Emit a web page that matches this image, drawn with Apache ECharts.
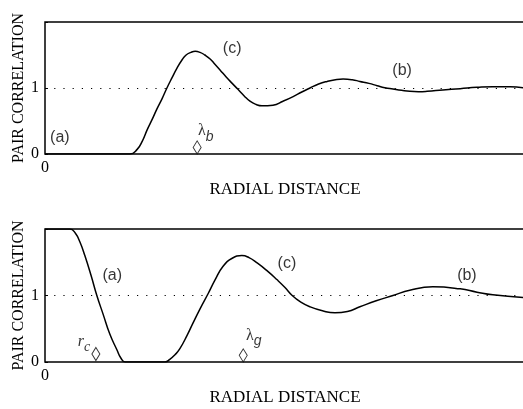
<!DOCTYPE html>
<html>
<head>
<meta charset="utf-8">
<script src="https://cdn.jsdelivr.net/npm/echarts@6/dist/echarts.min.js"></script>
<style>
  html, body { margin: 0; padding: 0; background: #fff; }
  #chart { width: 523px; height: 409px; }
</style>
</head>
<body>
<div id="chart"></div>
<script>
// radial distance runs 0..10 (arbitrary units), pair correlation 0..2
const topX = [0, 1.77, 1.92, 2.03, 2.13, 2.23, 2.33, 2.44, 2.54, 2.65, 2.75, 2.85, 2.94, 3.04, 3.13, 3.23, 3.33, 3.44, 3.54, 3.65, 3.77, 3.9, 4.02, 4.15, 4.27, 4.4, 4.52, 4.75, 4.96, 5.17, 5.35, 5.52, 5.7, 5.88, 6.05, 6.21, 6.4, 6.56, 6.75, 6.92, 7.08, 7.25, 7.43, 7.6, 7.78, 7.96, 8.29, 8.65, 9.0, 9.33, 9.69, 10]
const topY = [0, 0, 0.07, 0.2, 0.37, 0.52, 0.68, 0.84, 1.0, 1.16, 1.3, 1.42, 1.5, 1.54, 1.556, 1.54, 1.5, 1.44, 1.36, 1.27, 1.17, 1.07, 0.98, 0.88, 0.8, 0.75, 0.73, 0.74, 0.8, 0.87, 0.94, 1.0, 1.06, 1.1, 1.125, 1.135, 1.125, 1.1, 1.07, 1.035, 1.005, 0.985, 0.965, 0.95, 0.945, 0.95, 0.97, 0.99, 1.01, 1.02, 1.02, 1.0]

const botX = [0, 0.52, 0.63, 0.73, 0.83, 0.96, 1.08, 1.21, 1.35, 1.5, 1.58, 1.67, 2.5, 2.6, 2.71, 2.81, 2.96, 3.08, 3.23, 3.4, 3.54, 3.71, 3.9, 4.1, 4.25, 4.42, 4.63, 4.83, 5.0, 5.15, 5.33, 5.52, 5.78, 6.04, 6.3, 6.56, 6.9, 7.25, 7.6, 8.08, 8.65, 9.0, 9.33, 10]
const botY = [2, 2, 1.94, 1.8, 1.6, 1.3, 1.0, 0.72, 0.42, 0.18, 0.06, 0, 0, 0.04, 0.11, 0.2, 0.4, 0.58, 0.8, 1.03, 1.23, 1.44, 1.56, 1.6, 1.57, 1.49, 1.37, 1.24, 1.12, 1.0, 0.9, 0.83, 0.77, 0.74, 0.76, 0.83, 0.92, 1.0, 1.08, 1.13, 1.1, 1.05, 1.01, 0.97]

// diamond markers (lambda_b on top, r_c and lambda_g below)
const topMarkX = [3.17]
const topMarkY = [0.1]
const botMarkX = [1.06, 4.13]
const botMarkY = [0.12, 0.1]

// curve annotations
const topAnnX = [0.31, 3.9, 7.44, 3.35]
const topAnnY = [0.25, 1.6, 1.26, 0.31]
const topAnnText = ['(a)', '(c)', '(b)', '{l|λ}{s|b}']
const botAnnX = [1.4, 5.04, 8.79, 0.81, 4.35]
const botAnnY = [1.3, 1.48, 1.3, 0.27, 0.36]
const botAnnText = ['(a)', '(c)', '(b)', '{r|r}{c|c}', '{l|λ}{s|g}']

const yTicks = ['0', '1']

const serif = '"Liberation Serif", "DejaVu Serif", serif'
const sans = '"Liberation Sans", Arial, sans-serif'

const pairs = (xs, ys) => xs.map((x, i) => [x, ys[i]])

const chart = echarts.init(document.getElementById('chart'))

const grids = [
  { left: 45, right: -2, top: 22, height: 132 },
  { left: 45, right: -2, top: 229, height: 133 }
].map(g => Object.assign(g, {
  show: true, borderColor: '#000', borderWidth: 1.5, backgroundColor: 'transparent',
  containLabel: false, outerBoundsMode: 'none'
}))

const xAxes = [0, 1].map(i => ({
  type: 'value',
  gridIndex: i,
  min: 0,
  max: 10,
  interval: 10,
  name: 'RADIAL DISTANCE',
  nameLocation: 'middle',
  nameGap: 27,
  nameTextStyle: { fontFamily: serif, fontSize: 17, color: '#000' },
  axisLine: { show: false },
  axisTick: { show: false },
  splitLine: { show: false },
  axisLabel: {
    fontFamily: serif, fontSize: 16, color: '#000', margin: 6,
    formatter: v => (v === 0 ? '0' : '')
  }
}))

const yAxes = [0, 1].map(i => ({
  type: 'value',
  gridIndex: i,
  min: 0,
  max: 2,
  interval: 1,
  name: 'PAIR CORRELATION',
  nameLocation: 'middle',
  nameRotate: 90,
  nameGap: 18,
  nameMoveOverlap: false,
  nameTextStyle: { fontFamily: serif, fontSize: 16, color: '#000' },
  axisLine: { show: false },
  axisTick: { show: true, inside: true, length: 3, lineStyle: { color: '#000' } },
  splitLine: { show: false },
  axisLabel: {
    fontFamily: serif, fontSize: 16, color: '#000', margin: 6,
    formatter: v => yTicks[v] || ''
  }
}))

const rich = {
  l: { fontFamily: serif, fontSize: 16, color: '#000', verticalAlign: 'top', lineHeight: 21 },
  s: { fontFamily: sans, fontStyle: 'italic', fontSize: 14, color: '#000', verticalAlign: 'bottom', lineHeight: 21 },
  r: { fontFamily: serif, fontStyle: 'italic', fontSize: 16, color: '#000', verticalAlign: 'top', lineHeight: 20 },
  c: { fontFamily: serif, fontStyle: 'italic', fontSize: 14, color: '#000', verticalAlign: 'bottom', lineHeight: 20 }
}

const curve = (i, xs, ys) => ({
  type: 'line',
  xAxisIndex: i,
  yAxisIndex: i,
  data: pairs(xs, ys),
  smooth: 0.5,
  symbol: 'none',
  clip: true,
  lineStyle: { color: '#000', width: 1.5 },
  markLine: {
    silent: true,
    symbol: 'none',
    label: { show: false },
    lineStyle: { color: '#000', width: 1, type: [1.2, 8] },
    data: [{ yAxis: 1 }]
  },
  z: 3
})

const markers = (i, xs, ys) => ({
  type: 'scatter',
  xAxisIndex: i,
  yAxisIndex: i,
  data: pairs(xs, ys),
  symbol: 'diamond',
  symbolSize: [8, 13],
  itemStyle: { color: '#fff', borderColor: '#000', borderWidth: 1 },
  z: 4
})

const notes = (i, xs, ys, texts) => ({
  type: 'scatter',
  xAxisIndex: i,
  yAxisIndex: i,
  data: xs.map((x, k) => ({ value: [x, ys[k]], name: texts[k] })),
  symbolSize: 0,
  silent: true,
  label: {
    show: true,
    position: 'inside',
    formatter: p => p.name,
    fontFamily: sans,
    fontSize: 16,
    color: '#000',
    rich
  },
  z: 5
})

chart.setOption({
  animation: false,
  backgroundColor: '#fff',
  grid: grids,
  xAxis: xAxes,
  yAxis: yAxes,
  series: [
    curve(0, topX, topY),
    curve(1, botX, botY),
    markers(0, topMarkX, topMarkY),
    markers(1, botMarkX, botMarkY),
    notes(0, topAnnX, topAnnY, topAnnText),
    notes(1, botAnnX, botAnnY, botAnnText)
  ]
})
</script>
</body>
</html>
